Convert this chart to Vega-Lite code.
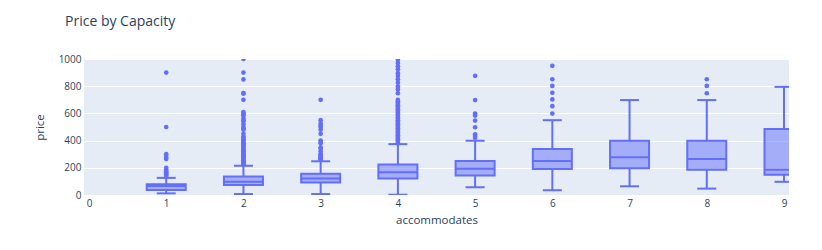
{
  "$schema": "https://vega.github.io/schema/vega-lite/v6.json",
  "width": 705,
  "height": 136,
  "autosize": {"type": "none"},
  "padding": {"left": 84, "top": 59, "right": 33, "bottom": 55},
  "background": "white",
  "title": {"text": "Price by Capacity", "anchor": "start", "frame": "group", "dx": -19, "offset": 14, "baseline": "alphabetic", "font": "Open Sans", "fontSize": 14, "fontWeight": "normal", "color": "#2a3f5f"},
  "config": {
    "view": {"fill": "#e5ecf6", "stroke": null},
    "font": "Open Sans",
    "axis": {"labelFont": "Open Sans", "labelFontSize": 10, "labelColor": "#2a3f5f", "titleFont": "Open Sans", "titleFontSize": 11.5, "titleFontWeight": "normal", "titleColor": "#2a3f5f", "domain": false, "ticks": false, "labelOverlap": false, "labelFlush": false, "format": "d"}
  },
  "datasets": {
    "boxes": [
      {"accommodates": 1, "lower": 12, "q1": 37, "median": 67, "q3": 79, "upper": 126},
      {"accommodates": 2, "lower": 7, "q1": 74, "median": 97, "q3": 136, "upper": 215},
      {"accommodates": 3, "lower": 7, "q1": 92, "median": 121, "q3": 156, "upper": 248},
      {"accommodates": 4, "lower": 2, "q1": 121, "median": 168, "q3": 225, "upper": 374},
      {"accommodates": 5, "lower": 57, "q1": 144, "median": 193, "q3": 250, "upper": 399},
      {"accommodates": 6, "lower": 35, "q1": 191, "median": 250, "q3": 339, "upper": 550},
      {"accommodates": 7, "lower": 64, "q1": 196, "median": 277, "q3": 399, "upper": 698},
      {"accommodates": 8, "lower": 47, "q1": 186, "median": 265, "q3": 399, "upper": 698},
      {"accommodates": 9, "lower": 97, "q1": 149, "median": 186, "q3": 485, "upper": 795}
    ],
    "outliers": [
      {"accommodates": 1, "price": 140}, {"accommodates": 1, "price": 150}, {"accommodates": 1, "price": 155}, {"accommodates": 1, "price": 165}, {"accommodates": 1, "price": 175}, {"accommodates": 1, "price": 185}, {"accommodates": 1, "price": 200}, {"accommodates": 1, "price": 265}, {"accommodates": 1, "price": 280}, {"accommodates": 1, "price": 300}, {"accommodates": 1, "price": 500}, {"accommodates": 1, "price": 900},
      {"accommodates": 2, "price": 225}, {"accommodates": 2, "price": 230}, {"accommodates": 2, "price": 240}, {"accommodates": 2, "price": 245}, {"accommodates": 2, "price": 250}, {"accommodates": 2, "price": 260}, {"accommodates": 2, "price": 270}, {"accommodates": 2, "price": 275}, {"accommodates": 2, "price": 280}, {"accommodates": 2, "price": 290}, {"accommodates": 2, "price": 295}, {"accommodates": 2, "price": 300}, {"accommodates": 2, "price": 310}, {"accommodates": 2, "price": 320}, {"accommodates": 2, "price": 325}, {"accommodates": 2, "price": 330}, {"accommodates": 2, "price": 340}, {"accommodates": 2, "price": 350}, {"accommodates": 2, "price": 360}, {"accommodates": 2, "price": 370}, {"accommodates": 2, "price": 375}, {"accommodates": 2, "price": 380}, {"accommodates": 2, "price": 390}, {"accommodates": 2, "price": 400}, {"accommodates": 2, "price": 410}, {"accommodates": 2, "price": 420}, {"accommodates": 2, "price": 430}, {"accommodates": 2, "price": 450}, {"accommodates": 2, "price": 480}, {"accommodates": 2, "price": 490}, {"accommodates": 2, "price": 500}, {"accommodates": 2, "price": 520}, {"accommodates": 2, "price": 540}, {"accommodates": 2, "price": 550}, {"accommodates": 2, "price": 560}, {"accommodates": 2, "price": 580}, {"accommodates": 2, "price": 590}, {"accommodates": 2, "price": 600}, {"accommodates": 2, "price": 610}, {"accommodates": 2, "price": 700}, {"accommodates": 2, "price": 745}, {"accommodates": 2, "price": 750}, {"accommodates": 2, "price": 850}, {"accommodates": 2, "price": 900}, {"accommodates": 2, "price": 1000},
      {"accommodates": 3, "price": 260}, {"accommodates": 3, "price": 265}, {"accommodates": 3, "price": 270}, {"accommodates": 3, "price": 275}, {"accommodates": 3, "price": 280}, {"accommodates": 3, "price": 290}, {"accommodates": 3, "price": 295}, {"accommodates": 3, "price": 300}, {"accommodates": 3, "price": 320}, {"accommodates": 3, "price": 340}, {"accommodates": 3, "price": 350}, {"accommodates": 3, "price": 380}, {"accommodates": 3, "price": 390}, {"accommodates": 3, "price": 400}, {"accommodates": 3, "price": 450}, {"accommodates": 3, "price": 480}, {"accommodates": 3, "price": 500}, {"accommodates": 3, "price": 510}, {"accommodates": 3, "price": 525}, {"accommodates": 3, "price": 550}, {"accommodates": 3, "price": 700},
      {"accommodates": 4, "price": 380}, {"accommodates": 4, "price": 390}, {"accommodates": 4, "price": 400}, {"accommodates": 4, "price": 410}, {"accommodates": 4, "price": 420}, {"accommodates": 4, "price": 430}, {"accommodates": 4, "price": 440}, {"accommodates": 4, "price": 450}, {"accommodates": 4, "price": 460}, {"accommodates": 4, "price": 470}, {"accommodates": 4, "price": 480}, {"accommodates": 4, "price": 490}, {"accommodates": 4, "price": 500}, {"accommodates": 4, "price": 510}, {"accommodates": 4, "price": 520}, {"accommodates": 4, "price": 530}, {"accommodates": 4, "price": 540}, {"accommodates": 4, "price": 550}, {"accommodates": 4, "price": 560}, {"accommodates": 4, "price": 570}, {"accommodates": 4, "price": 580}, {"accommodates": 4, "price": 590}, {"accommodates": 4, "price": 600}, {"accommodates": 4, "price": 610}, {"accommodates": 4, "price": 620}, {"accommodates": 4, "price": 630}, {"accommodates": 4, "price": 640}, {"accommodates": 4, "price": 650}, {"accommodates": 4, "price": 660}, {"accommodates": 4, "price": 670}, {"accommodates": 4, "price": 680}, {"accommodates": 4, "price": 690}, {"accommodates": 4, "price": 700}, {"accommodates": 4, "price": 748}, {"accommodates": 4, "price": 775}, {"accommodates": 4, "price": 797}, {"accommodates": 4, "price": 825}, {"accommodates": 4, "price": 851}, {"accommodates": 4, "price": 875}, {"accommodates": 4, "price": 896}, {"accommodates": 4, "price": 925}, {"accommodates": 4, "price": 946}, {"accommodates": 4, "price": 970}, {"accommodates": 4, "price": 995},
      {"accommodates": 5, "price": 421}, {"accommodates": 5, "price": 433}, {"accommodates": 5, "price": 446}, {"accommodates": 5, "price": 498}, {"accommodates": 5, "price": 547}, {"accommodates": 5, "price": 584}, {"accommodates": 5, "price": 599}, {"accommodates": 5, "price": 698}, {"accommodates": 5, "price": 876},
      {"accommodates": 6, "price": 599}, {"accommodates": 6, "price": 653}, {"accommodates": 6, "price": 703}, {"accommodates": 6, "price": 752}, {"accommodates": 6, "price": 802}, {"accommodates": 6, "price": 851}, {"accommodates": 6, "price": 950},
      {"accommodates": 8, "price": 748}, {"accommodates": 8, "price": 802}, {"accommodates": 8, "price": 851}
    ]
  },
  "encoding": {
    "x": {"field": "accommodates", "type": "quantitative", "scale": {"domain": [0, 9], "nice": false}, "axis": {"values": [0,1,2,3,4,5,6,7,8,9], "tickCount": 10, "grid": false, "labelFlush": false, "labelAlign": "center", "labelPadding": 3, "title": "accommodates", "titlePadding": 6}}
  },
  "layer": [
    {
      "data": {"name": "boxes"},
      "mark": {"type": "rule", "color": "#636efa", "strokeWidth": 2, "clip": true},
      "encoding": {
        "y": {"field": "lower", "type": "quantitative", "scale": {"domain": [0, 1000], "nice": false}, "axis": {"values": [0,200,400,600,800,1000], "tickCount": 6, "grid": true, "gridColor": "white", "gridWidth": 1, "labelFlush": false, "labelBaseline": "middle", "labelPadding": 3, "title": "price", "titlePadding": 13}},
        "y2": {"field": "q1"}
      }
    },
    {
      "data": {"name": "boxes"},
      "mark": {"type": "rule", "color": "#636efa", "strokeWidth": 2, "clip": true},
      "encoding": {
        "y": {"field": "q3", "type": "quantitative", "axis": {"values": [0,200,400,600,800,1000], "tickCount": 6, "grid": true, "gridColor": "white", "gridWidth": 1, "labelFlush": false, "labelBaseline": "middle", "labelPadding": 3, "title": "price", "titlePadding": 13}},
        "y2": {"field": "upper"}
      }
    },
    {
      "data": {"name": "boxes"},
      "mark": {"type": "tick", "orient": "horizontal", "color": "#636efa", "thickness": 2, "size": 19, "opacity": 1, "clip": true},
      "encoding": {
        "y": {"field": "lower", "type": "quantitative", "axis": {"values": [0,200,400,600,800,1000], "tickCount": 6, "grid": true, "gridColor": "white", "gridWidth": 1, "labelFlush": false, "labelBaseline": "middle", "labelPadding": 3, "title": "price", "titlePadding": 13}}
      }
    },
    {
      "data": {"name": "boxes"},
      "mark": {"type": "tick", "orient": "horizontal", "color": "#636efa", "thickness": 2, "size": 19, "opacity": 1, "clip": true},
      "encoding": {
        "y": {"field": "upper", "type": "quantitative", "axis": {"values": [0,200,400,600,800,1000], "tickCount": 6, "grid": true, "gridColor": "white", "gridWidth": 1, "labelFlush": false, "labelBaseline": "middle", "labelPadding": 3, "title": "price", "titlePadding": 13}}
      }
    },
    {
      "data": {"name": "boxes"},
      "mark": {"type": "bar", "size": 39, "fill": "#636efa", "fillOpacity": 0.5, "stroke": "#636efa", "strokeWidth": 2, "clip": true},
      "encoding": {
        "y": {"field": "q1", "type": "quantitative", "axis": {"values": [0,200,400,600,800,1000], "tickCount": 6, "grid": true, "gridColor": "white", "gridWidth": 1, "labelFlush": false, "labelBaseline": "middle", "labelPadding": 3, "title": "price", "titlePadding": 13}},
        "y2": {"field": "q3"}
      }
    },
    {
      "data": {"name": "boxes"},
      "mark": {"type": "tick", "orient": "horizontal", "color": "#636efa", "thickness": 2, "size": 39, "opacity": 1, "clip": true},
      "encoding": {
        "y": {"field": "median", "type": "quantitative", "axis": {"values": [0,200,400,600,800,1000], "tickCount": 6, "grid": true, "gridColor": "white", "gridWidth": 1, "labelFlush": false, "labelBaseline": "middle", "labelPadding": 3, "title": "price", "titlePadding": 13}}
      }
    },
    {
      "data": {"name": "outliers"},
      "mark": {"type": "circle", "color": "#636efa", "size": 22, "opacity": 1, "clip": true},
      "encoding": {
        "y": {"field": "price", "type": "quantitative", "axis": {"values": [0,200,400,600,800,1000], "tickCount": 6, "grid": true, "gridColor": "white", "gridWidth": 1, "labelFlush": false, "labelBaseline": "middle", "labelPadding": 3, "title": "price", "titlePadding": 13}}
      }
    }
  ]
}
